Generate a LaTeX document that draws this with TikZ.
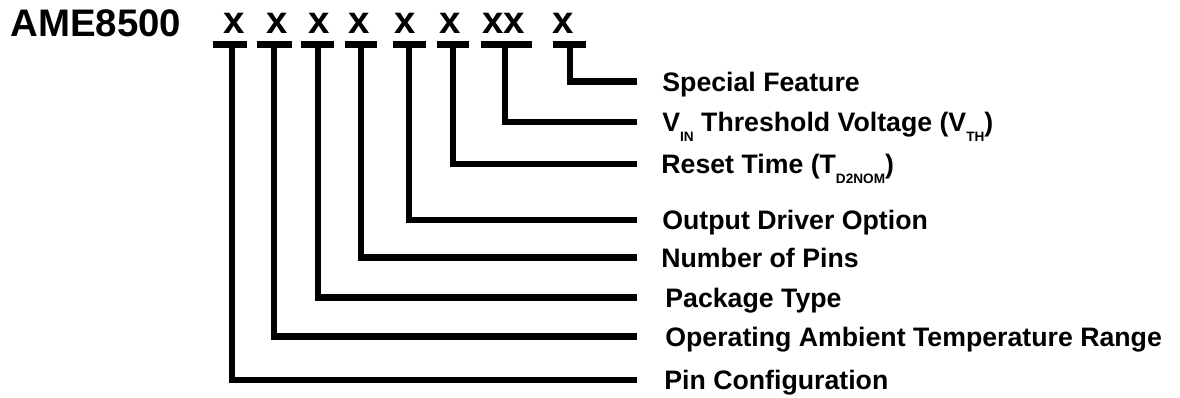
\documentclass[tikz,border=0pt]{standalone}
\usepackage{fontspec}
\setmainfont{Liberation Sans}
\usetikzlibrary{positioning}

\tikzset{
  part/.style={font=\fontsize{19.2}{20}\selectfont\bfseries, inner sep=0pt, anchor=base},
  desc/.style={font=\fontsize{13.35}{14}\selectfont\bfseries, inner sep=0pt, anchor=west, text height=9.5pt, text depth=0pt},
  lead/.style={line width=3.3pt},
  bar/.style={line width=3.5pt},
}
\newcommand{\subtxt}[1]{\raisebox{-5pt}{\fontsize{6.8}{7}\selectfont #1}}

\begin{document}
\begin{tikzpicture}[x=0.5pt,y=-0.5pt]
        \useasboundingbox (0,0) rectangle (1180,397);
        % part number and its fields
        \node[part, anchor=base west] (ame) at (10,36.5) {AME8500};
        \node[part] (x1) at (234,33.5) {x};
        \node[part] (x2) at (277,33.5) {x};
        \node[part] (x3) at (319,33.5) {x};
        \node[part] (x4) at (359,33.5) {x};
        \node[part] (x5) at (405,33.5) {x};
        \node[part] (x6) at (450,33.5) {x};
        \node[part] (x7) at (504,33.5) {xx};
        \node[part] (x8) at (563,33.5) {x};
        \draw[bar] (212.7,44) -- (246.7,44);
        \draw[bar] (256.7,44) -- (291.7,44);
        \draw[bar] (301,44) -- (334,44);
        \draw[bar] (345,44) -- (377.3,44);
        \draw[bar] (393,44) -- (426,44);
        \draw[bar] (437.3,44) -- (469.3,44);
        \draw[bar] (481,44) -- (531.7,44);
        \draw[bar] (552.7,44) -- (586,44);
        \coordinate (v1) at (232,44);
        \coordinate (v2) at (274,44);
        \coordinate (v3) at (318,44);
        \coordinate (v4) at (361,44);
        \coordinate (v5) at (409,44);
        \coordinate (v6) at (453,44);
        \coordinate (v7) at (505,44);
        \coordinate (v8) at (570,44);
        \coordinate (rim) at (637,0);
        % descriptions
        \node[desc] (spec) at (662,81.5) {Special Feature};
        \node[desc] (vin) at (662,122) {V\subtxt{IN} Threshold Voltage (V\subtxt{TH})};
        \node[desc] (reset) at (661,164) {Reset Time (T\subtxt{D2NOM})};
        \node[desc] (drv) at (662,220) {Output Driver Option};
        \node[desc] (pins) at (661,257.5) {Number of Pins};
        \node[desc] (pkg) at (665,297.5) {Package Type};
        \node[desc] (temp) at (665,336.5) {Operating Ambient Temperature Range};
        \node[desc] (cfg) at (664,380) {Pin Configuration};
        \draw[lead] (v8) |- (rim |- spec.west);
        \draw[lead] (v7) |- (rim |- vin.west);
        \draw[lead] (v6) |- (rim |- reset.west);
        \draw[lead] (v5) |- (rim |- drv.west);
        \draw[lead] (v4) |- (rim |- pins.west);
        \draw[lead] (v3) |- (rim |- pkg.west);
        \draw[lead] (v2) |- (rim |- temp.west);
        \draw[lead] (v1) |- (rim |- cfg.west);
    \end{tikzpicture}
\end{document}
